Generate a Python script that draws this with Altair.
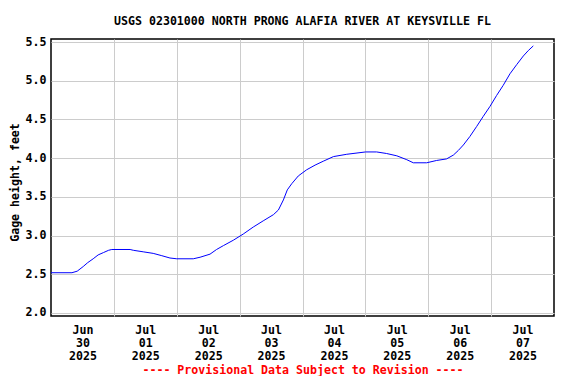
import altair as alt
import pandas as pd

# hours since 2025-06-30 00:00 (local) and gage height in feet
hours = [0, 8, 10, 12.3, 14, 16.1, 18, 20, 22, 23.2,
         30.2, 31.4, 35.2, 39, 42.3, 45.4, 48, 54.3, 56.9, 60.7,
         63.2, 65.8, 69.6, 73.4, 77.2, 81.0, 84.9, 86.8, 88.7, 90.2,
         91.9, 94.4, 97.6, 100.8, 103.9, 107.8, 112.9, 120.1, 124.3, 128.1,
         132, 135.8, 138.3, 143.4, 147.2, 151, 153.6, 155.5, 157.4, 159.9,
         162.5, 165, 167.6, 170.1, 172.6, 175.2, 177.8, 180.3, 182.2, 184.1]
gage_ft = [2.52, 2.52, 2.54, 2.60, 2.65, 2.70, 2.75, 2.78, 2.81, 2.82,
           2.82, 2.81, 2.79, 2.77, 2.74, 2.71, 2.70, 2.70, 2.72, 2.76,
           2.82, 2.87, 2.94, 3.02, 3.11, 3.19, 3.27, 3.33, 3.46, 3.59,
           3.67, 3.77, 3.85, 3.91, 3.96, 4.02, 4.05, 4.08, 4.08, 4.06,
           4.03, 3.98, 3.94, 3.94, 3.97, 3.99, 4.04, 4.10, 4.17, 4.28,
           4.41, 4.54, 4.67, 4.81, 4.94, 5.09, 5.21, 5.32, 5.39, 5.45]

y_ticks = [2.0, 2.5, 3.0, 3.5, 4.0, 4.5, 5.0, 5.5]
# (month, day) of each day shown; labels at noon, grid at midnight
days = [(6, 30), (7, 1), (7, 2), (7, 3), (7, 4), (7, 5), (7, 6), (7, 7)]

title_text = "USGS 02301000 NORTH PRONG ALAFIA RIVER AT KEYSVILLE FL"
y_title = "Gage height, feet"
note_text = "---- Provisional Data Subject to Revision ----"

start = pd.Timestamp("2025-06-30 00:00:00")
times = [(start + pd.to_timedelta(h, unit="h")).strftime("%Y-%m-%dT%H:%M:%S") for h in hours]
df = pd.DataFrame({"time": times, "gage": gage_ft})

FONT = "DejaVu Sans Mono"
FS = 11.6

x_values = []
for m, d in days:
    x_values.append(alt.DateTime(year=2025, month=m, date=d, hours=12))
    if (m, d) != (6, 30):
        x_values.append(alt.DateTime(year=2025, month=m, date=d, hours=0))

x_axis = alt.Axis(
    values=x_values,
    labelExpr="hours(datum.value) == 12 ? [timeFormat(datum.value, '%b'), timeFormat(datum.value, '%d'), timeFormat(datum.value, '%Y')] : ''",
    labelFont=FONT, labelFontSize=FS, labelFontWeight="bold", labelColor="black",
    labelLineHeight=13, labelPadding=8, labelOverlap=False, labelFlush=False, labelBound=False,
    ticks=False, tickSize=0, domain=False,
    grid=True, gridColor="#cccccc", gridWidth=1,
    gridOpacity={"condition": {"test": "hours(datum.value) == 0", "value": 1}, "value": 0},
    title=note_text, titleColor="red", titleFont=FONT, titleFontSize=FS,
    titleFontWeight="bold", titleBaseline="middle", titleY=54,
)

y_axis = alt.Axis(
    values=y_ticks, format=".1f",
    labelFont=FONT, labelFontSize=FS, labelFontWeight="bold", labelColor="black",
    labelPadding=5, ticks=False, tickSize=0, domain=False,
    grid=True, gridColor="#cccccc", gridWidth=1,
    title=y_title, titleFont=FONT, titleFontSize=FS, titleFontWeight="bold",
    titleColor="black", titleX=-36, titleY=143, titleBaseline="middle", titleAngle=270,
    titleAlign="center",
)

chart = alt.Chart(df).mark_line(color="#0000ff", strokeWidth=1, interpolate="linear").encode(
    x=alt.X("time:T", axis=x_axis,
            scale=alt.Scale(domain=[alt.DateTime(year=2025, month=6, date=30, hours=0),
                                    alt.DateTime(year=2025, month=7, date=8, hours=0)])),
    y=alt.Y("gage:Q", axis=y_axis,
            scale=alt.Scale(domain=[1.961, 5.539], nice=False, zero=False)),
).properties(
    width=503, height=277,
    title=alt.TitleParams(text=title_text, font=FONT, fontSize=FS, fontWeight="bold",
                          anchor="middle", offset=8, color="black"),
    autosize=alt.AutoSizeParams(type="none"),
    padding={"left": 43, "top": 31, "right": 14, "bottom": 60},
    background="white",
).configure_view(stroke="black", strokeWidth=1.5)

chart.save("out.html", embed_options={"renderer": "svg", "actions": False})
